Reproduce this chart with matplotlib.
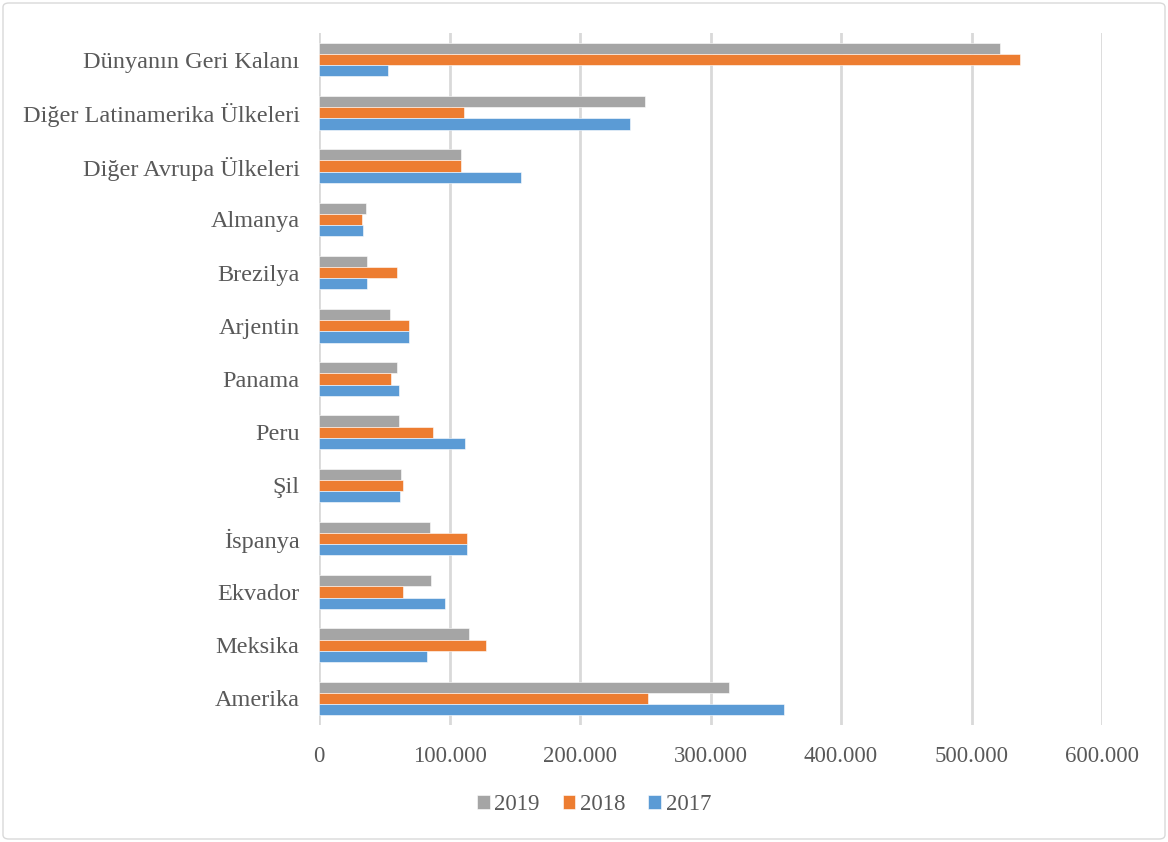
import matplotlib
matplotlib.use("Agg")
import matplotlib.pyplot as plt
import numpy as np
from matplotlib.ticker import FuncFormatter
from matplotlib.patches import FancyBboxPatch

categories = ["Amerika", "Meksika", "Ekvador", "İspanya", "Şil", "Peru", "Panama",
              "Arjentin", "Brezilya", "Almanya", "Diğer Avrupa Ülkeleri",
              "Diğer Latinamerika Ülkeleri", "Dünyanın Geri Kalanı"]
v2019 = [314000, 114600, 86000, 85000, 63200, 61400, 59400, 54500, 37000, 36000, 108500, 250000, 521600]
v2018 = [252000, 128200, 64500, 113300, 64500, 87000, 55500, 69000, 59400, 33000, 108500, 111000, 537000]
v2017 = [356400, 82900, 96700, 113300, 62400, 111600, 61400, 69000, 37000, 34000, 155000, 238500, 52500]
years = ["2019", "2018", "2017"]
colors = ["#A5A5A5", "#ED7D31", "#5B9BD5"]
xticks = [0, 100000, 200000, 300000, 400000, 500000, 600000]

plt.rcParams['font.family'] = ['Liberation Serif', 'DejaVu Serif']

fig = plt.figure(figsize=(11.68, 8.42), dpi=100)
W, H = 1168, 842
ax = fig.add_axes([319 / W, 1 - 725 / H, (1102 - 319) / W, (725 - 33) / H])

y = np.arange(len(categories))
h = 0.21
series = [v2019, v2018, v2017]
offsets = [h, 0, -h]
for vals, off, c, lab in zip(series, offsets, colors, years):
    ax.barh(y + off, vals, height=h, color=c, label=lab, edgecolor="white", linewidth=0.4, zorder=3)

ax.set_xlim(0, 600000)
ax.set_ylim(-0.5, 12.5)
ax.set_yticks(y)
ax.set_yticklabels(categories)
ax.set_xticks(xticks)
ax.xaxis.set_major_formatter(FuncFormatter(lambda v, p: "0" if v == 0 else f"{int(v):,}".replace(",", ".")))
ax.grid(axis="x", color="#D9D9D9", linewidth=2, zorder=0)
for s in ax.spines.values():
    s.set_visible(False)
ax.tick_params(axis="x", length=0, labelsize=16.5, colors="#595959", pad=15)
ax.tick_params(axis="y", length=0, labelsize=17.5, colors="#595959", pad=14)

handles, labels = ax.get_legend_handles_labels()
leg = fig.legend(handles, labels, loc="center", bbox_to_anchor=(594 / W, 1 - 805 / H), ncol=3,
                 frameon=False, fontsize=16.5, handlelength=0.55, handleheight=0.55,
                 handletextpad=0.2, columnspacing=1.0)
for t in leg.get_texts():
    t.set_color("#595959")

border = FancyBboxPatch((3 / W, 3 / H), 1 - 6 / W, 1 - 6 / H, boxstyle="round,pad=0,rounding_size=0.005",
                        transform=fig.transFigure, fill=False, edgecolor="#D9D9D9", linewidth=1)
fig.patches.append(border)

fig.savefig("out.png", dpi=100)
